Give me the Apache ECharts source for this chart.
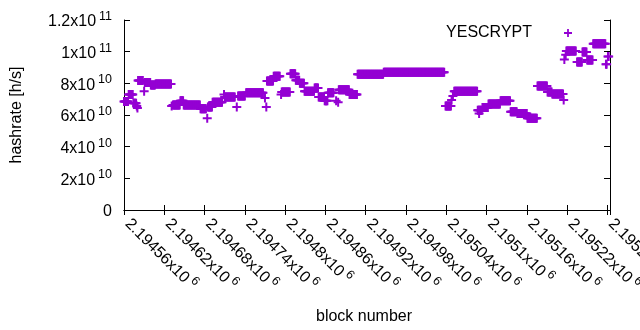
<!DOCTYPE html>
<html>
<head>
<meta charset="utf-8">
<script src="https://cdn.jsdelivr.net/npm/echarts@6/dist/echarts.min.js"></script>
<style>
html, body { margin: 0; padding: 0; background: #fff; }
#chart { width: 640px; height: 330px; }
</style>
</head>
<body>
<div id="chart"></div>
<script>
// each run: blocks runFrom..runTo all carry the same hashrate estimate
const runFrom = [
	2194560, 2194567, 2194574, 2194579, 2194580, 2194581, 2194590, 2194591, 2194600, 2194607,
	2194631, 2194633, 2194644, 2194649, 2194674, 2194684, 2194685, 2194692, 2194709, 2194710,
	2194728, 2194730, 2194742, 2194770, 2194772, 2194773, 2194783, 2194794, 2194795, 2194808,
	2194816, 2194822, 2194829, 2194844, 2194850, 2194859, 2194864, 2194876, 2194879, 2194880,
	2194896, 2194908, 2194947, 2195039, 2195048, 2195050, 2195052, 2195087, 2195089, 2195094,
	2195103, 2195121, 2195136, 2195146, 2195161, 2195176, 2195191, 2195198, 2195215, 2195216,
	2195218, 2195219, 2195235, 2195243, 2195250, 2195259, 2195278, 2195281
]
const runTo = [
	2194566, 2194573, 2194578, 2194579, 2194580, 2194588, 2194590, 2194599, 2194606, 2194630,
	2194631, 2194643, 2194648, 2194673, 2194682, 2194684, 2194691, 2194706, 2194709, 2194725,
	2194728, 2194740, 2194767, 2194770, 2194772, 2194782, 2194792, 2194794, 2194807, 2194815,
	2194821, 2194828, 2194843, 2194849, 2194858, 2194863, 2194872, 2194876, 2194879, 2194895,
	2194907, 2194946, 2195037, 2195047, 2195048, 2195050, 2195086, 2195093, 2195089, 2195102,
	2195120, 2195135, 2195145, 2195160, 2195175, 2195190, 2195197, 2195214, 2195215, 2195216,
	2195218, 2195233, 2195242, 2195249, 2195258, 2195277, 2195279, 2195282
]
const runHash = [
	6.85e10, 7.3e10, 6.75e10, 6.57e10, 6.44e10, 8.18e10, 7.5e10, 8.05e10, 7.9e10, 7.96e10,
	6.57e10, 6.63e10, 6.9e10, 6.63e10, 6.4e10, 5.8e10, 6.5e10, 6.8e10, 7.3e10, 7.14e10,
	6.5e10, 7.2e10, 7.4e10, 7.07e10, 6.5e10, 8.15e10, 8.45e10, 7.3e10, 7.45e10, 8.6e10,
	8.2e10, 8.0e10, 7.5e10, 7.7e10, 7.14e10, 6.9e10, 7.4e10, 6.9e10, 6.8e10, 7.6e10,
	7.3e10, 8.57e10, 8.7e10, 6.57e10, 6.95e10, 7.2e10, 7.5e10, 6.3e10, 6.1e10, 6.47e10,
	6.7e10, 6.9e10, 6.2e10, 6.1e10, 5.8e10, 7.83e10, 7.45e10, 7.33e10, 6.95e10, 9.5e10,
	9.8e10, 10.05e10, 9.35e10, 9.98e10, 9.47e10, 10.5e10, 9.2e10, 9.7e10
]

const xMin = 2194560
const xMax = 2195284
const xStep = 60
const yMax = 1.2e11
const yStep = 2e10
const seriesName = 'YESCRYPT'

const FONT = 'Liberation Sans'
const PLUS = 'path://M3.5,0H5.5V3.5H9V5.5H5.5V9H3.5V5.5H0V3.5H3.5Z'

// one point per block
let points = []
for (let i = 0; i < runFrom.length; i++) {
	for (let b = runFrom[i]; b <= runTo[i]; b++) {
		points.push([b, runHash[i]])
	}
}

// gnuplot style "2.19456x10^6"
function sci(v) {
	if (v === 0) return '{m|0}'
	let e = Math.floor(Math.log10(v) + 1e-9)
	let m = +(v / Math.pow(10, e)).toFixed(5)
	return '{m|' + m + 'x10}{e|' + e + '}'
}

const rich = {
	m: { fontFamily: FONT, fontSize: 16, lineHeight: 20, verticalAlign: 'bottom', color: '#000' },
	e: { fontFamily: FONT, fontSize: 12.5, lineHeight: 12, verticalAlign: 'top', color: '#000', padding: [0, 0, 0, 3] }
}
// rotated x labels start a bit right of the tick, like gnuplot
const richX = {
	m: Object.assign({}, rich.m, { padding: [0, 0, 0, 7] }),
	e: rich.e
}

const line = { show: true, lineStyle: { color: '#000', width: 1 } }

let chart = echarts.init(document.getElementById('chart'))
chart.setOption({
	animation: false,
	backgroundColor: '#fff',
	textStyle: { fontFamily: FONT },
	grid: { left: 124, right: 30, top: 20, bottom: 120, outerBoundsMode: 'none', containLabel: false },
	legend: {
		data: [seriesName],
		right: 68,
		top: 25,
		padding: 0,
		align: 'right',
		icon: PLUS,
		itemWidth: 8,
		itemHeight: 8,
		formatter: name => '{t|' + name + '}',
		textStyle: {
			rich: { t: { fontFamily: FONT, fontSize: 16, color: '#000', padding: [0, 27, 0, 0] } }
		}
	},
	xAxis: [{
		type: 'value',
		min: xMin,
		max: xMax,
		interval: xStep,
		name: 'block number',
		nameLocation: 'middle',
		nameGap: 99,
		nameTextStyle: { fontFamily: FONT, fontSize: 16, color: '#000', padding: [0, 6, 0, 0] },
		axisLine: line,
		axisTick: { inside: true, length: 5, lineStyle: { color: '#000' } },
		splitLine: { show: false },
		axisLabel: {
			rotate: -45,
			margin: 5,
			hideOverlap: false,
			formatter: v => (v % xStep === 0 ? sci(v) : ''),
			rich: richX
		}
	}, {
		type: 'value',
		position: 'top',
		min: xMin,
		max: xMax,
		interval: xStep,
		axisLine: line,
		axisTick: { inside: true, length: 5, lineStyle: { color: '#000' } },
		axisLabel: { show: false },
		splitLine: { show: false }
	}],
	yAxis: [{
		type: 'value',
		min: 0,
		max: yMax,
		interval: yStep,
		name: 'hashrate [h/s]',
		nameLocation: 'middle',
		nameGap: 99,
		nameTextStyle: { fontFamily: FONT, fontSize: 16, color: '#000' },
		axisLine: line,
		axisTick: { inside: true, length: 6, lineStyle: { color: '#000' } },
		splitLine: { show: false },
		axisLabel: { margin: 12, formatter: v => sci(v), rich: rich }
	}, {
		type: 'value',
		position: 'right',
		min: 0,
		max: yMax,
		interval: yStep,
		axisLine: line,
		axisTick: { inside: true, length: 6, lineStyle: { color: '#000' } },
		axisLabel: { show: false },
		splitLine: { show: false }
	}],
	series: [{
		name: seriesName,
		type: 'scatter',
		clip: false,
		symbol: PLUS,
		symbolSize: 9,
		itemStyle: { color: '#9400d3', opacity: 1 },
		data: points
	}]
})
</script>
</body>
</html>
